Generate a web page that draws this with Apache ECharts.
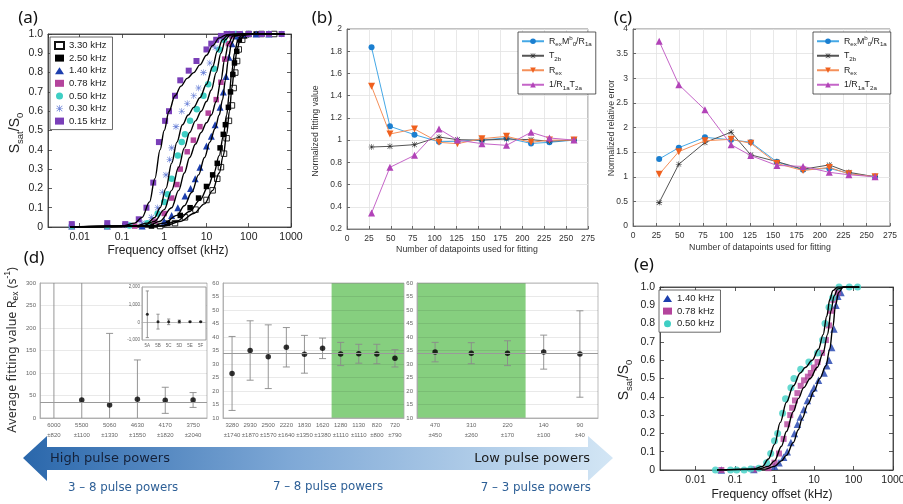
<!DOCTYPE html>
<html>
<head>
<meta charset="utf-8">
<script src="https://cdn.jsdelivr.net/npm/echarts@6/dist/echarts.min.js"></script>
<style>
html, body { margin: 0; padding: 0; background: #fff; }
#chart { width: 903px; height: 504px; }
</style>
</head>
<body>
<div id="chart"></div>
<script>
// ---------- Panel (a): saturation profiles, [offset (kHz), Ssat/S0] ----------
const aNames = ['3.30 kHz', '2.50 kHz', '1.40 kHz', '0.78 kHz', '0.50 kHz', '0.30 kHz', '0.15 kHz'];
const a330 = [[0.8,0.005],[1.8,0.02],[3.1,0.05],[5.5,0.09],[10,0.14],[14,0.19],[18,0.25],[22,0.31],[26,0.38],[30,0.46],[34,0.55],[40,0.63],[44,0.72],[48,0.8],[53,0.86],[58,0.92],[70,0.97],[100,1.0],[200,1.0],[400,1.0]];
const a250 = [[0.5,0.005],[1.2,0.02],[2.4,0.06],[4.1,0.1],[6.5,0.15],[10,0.21],[14,0.27],[18,0.33],[21,0.41],[25,0.48],[28,0.53],[33,0.62],[37,0.7],[42,0.79],[46,0.85],[52,0.91],[60,0.97],[80,0.99],[150,1.0],[300,1.0]];
const a140 = [[0.0065,0.005],[0.045,0.005],[0.3,0.005],[1.0,0.03],[1.5,0.06],[2.1,0.1],[3.1,0.16],[4.2,0.2],[5.4,0.25],[7,0.31],[10,0.42],[13,0.47],[16,0.53],[21,0.62],[25,0.7],[29,0.78],[34,0.88],[40,0.95],[50,0.99],[70,1.0],[150,1.0],[300,1.0]];
const a078 = [[0.0065,0.005],[0.045,0.005],[0.2,0.005],[0.6,0.03],[1.0,0.07],[1.5,0.15],[2.0,0.22],[2.4,0.3],[3.5,0.39],[4.9,0.45],[7,0.52],[11,0.59],[17,0.66],[22,0.75],[27,0.87],[33,0.95],[40,0.99],[60,1.0],[100,1.0],[300,1.0]];
const a050 = [[0.0065,0.005],[0.045,0.005],[0.15,0.008],[0.4,0.02],[0.7,0.07],[1.0,0.13],[1.2,0.17],[1.5,0.25],[2.1,0.37],[2.6,0.44],[3.1,0.48],[4.1,0.55],[5.9,0.61],[8.5,0.68],[11,0.74],[15,0.82],[20,0.92],[26,0.97],[35,1.0],[50,1.0],[100,1.0],[300,1.0]];
const a030 = [[0.0065,0.01],[0.045,0.01],[0.12,0.01],[0.3,0.02],[0.5,0.05],[0.7,0.1],[0.9,0.18],[1.1,0.27],[1.35,0.35],[1.5,0.41],[1.9,0.52],[2.6,0.6],[3.5,0.64],[5,0.68],[6.5,0.72],[8.5,0.8],[12,0.85],[16,0.93],[22,0.98],[30,1.0],[45,1.0],[100,1.0],[300,1.0],[600,1.0]];
const a015 = [[0.0065,0.015],[0.045,0.02],[0.12,0.015],[0.25,0.04],[0.38,0.1],[0.55,0.23],[0.75,0.44],[1.05,0.55],[1.3,0.6],[1.8,0.68],[2.4,0.76],[3.8,0.81],[5.8,0.86],[10,0.92],[13,0.95],[17,0.97],[22,0.99],[30,1.0],[40,1.0],[60,1.0],[100,1.0],[200,1.0],[300,1.0],[600,1.0]];
// fitted curves
const fit330 = [[0.006,0],[1,0.005],[2.5,0.03],[5,0.07],[9,0.12],[14,0.19],[20,0.28],[25,0.37],[30,0.48],[35,0.6],[40,0.72],[46,0.83],[53,0.92],[62,0.97],[80,0.995],[130,1],[700,1]];
const fit250 = [[0.006,0],[0.8,0.005],[2,0.03],[4,0.08],[7,0.14],[11,0.21],[15,0.28],[20,0.37],[25,0.47],[30,0.58],[35,0.7],[40,0.81],[46,0.9],[54,0.96],[65,0.99],[100,1],[700,1]];
const fit140 = [[0.006,0],[0.5,0.005],[1,0.02],[2,0.06],[3,0.11],[4.5,0.18],[6.5,0.27],[9,0.36],[12,0.44],[16,0.51],[20,0.58],[24,0.66],[28,0.76],[33,0.87],[39,0.95],[48,0.99],[80,1],[700,1]];
const fit078 = [[0.006,0],[0.4,0.005],[0.8,0.03],[1.5,0.1],[2.2,0.19],[3,0.28],[4,0.36],[5.5,0.43],[7.5,0.49],[10,0.54],[13,0.58],[17,0.65],[22,0.76],[27,0.87],[33,0.95],[42,0.99],[70,1],[700,1]];
const fit050 = [[0.006,0],[0.3,0.005],[0.6,0.03],[1,0.09],[1.5,0.19],[2.2,0.31],[3,0.41],[4,0.49],[5.5,0.55],[7.5,0.6],[10,0.65],[13,0.71],[17,0.8],[22,0.9],[28,0.97],[36,0.995],[60,1],[700,1]];
const fit030 = [[0.006,0],[0.2,0.005],[0.4,0.02],[0.6,0.05],[0.8,0.1],[1.1,0.2],[1.5,0.33],[2,0.44],[2.7,0.53],[3.7,0.58],[5,0.62],[7,0.67],[10,0.74],[14,0.83],[18,0.91],[24,0.97],[32,0.995],[50,1],[700,1]];
const fit015 = [[0.006,0],[0.1,0.005],[0.2,0.02],[0.3,0.05],[0.45,0.13],[0.6,0.25],[0.8,0.4],[1.0,0.5],[1.3,0.6],[1.8,0.68],[2.5,0.73],[3.5,0.77],[5,0.8],[7,0.84],[10,0.89],[14,0.94],[20,0.98],[30,0.997],[50,1],[700,1]];

// ---------- Panels (b) and (c): convergence vs. number of datapoints ----------
const bcNames = ['RexM0b/R1a', 'T2b', 'Rex', '1/R1aT2a'];
const nPoints = [28, 49, 77, 105, 126, 154, 182, 210, 231, 259];
const bRexM0 = [1.835, 1.124, 1.049, 0.985, 0.99, 1.0, 1.02, 0.97, 0.98, 1.0];
const bT2b = [0.938, 0.944, 0.959, 1.028, 1.004, 1.0, 1.01, 1.004, 0.99, 1.0];
const bRex = [1.484, 1.055, 1.10, 0.98, 0.968, 1.013, 1.034, 0.98, 1.0, 1.0];
const bR1aT2a = [0.344, 0.755, 0.863, 1.10, 1.0, 0.968, 0.953, 1.07, 1.019, 1.0];
const cRexM0 = [1.36, 1.59, 1.80, 1.75, 1.70, 1.30, 1.14, 1.17, 1.07, 1.0];
const cT2b = [0.475, 1.254, 1.695, 1.905, 1.444, 1.308, 1.153, 1.24, 1.09, 1.0];
const cRex = [1.05, 1.51, 1.73, 1.76, 1.68, 1.27, 1.125, 1.19, 1.06, 1.0];
const cR1aT2a = [3.75, 2.87, 2.36, 1.65, 1.43, 1.23, 1.21, 1.09, 1.04, 1.0];

// ---------- Panel (d): average fitted Rex with standard deviation ----------
const dLeftCats = ['6000\n±820', '5500\n±1100', '5060\n±1330', '4630\n±1550', '4170\n±1820', '3750\n±2040'];
const insetCats = ['5A', '5B', '5C', '5D', '5E', '5F'];
const dLeftMean = [457, 40, 29, 41.5, 39.3, 40];
const dLeftErr = [1320, 420, 159, 87.5, 29, 16.5];
const dMidCats = ['3280\n±1740', '2930\n±1870', '2500\n±1570', '2220\n±1640', '1830\n±1350', '1620\n±1380', '1280\n±1110', '1130\n±1110', '820\n±800', '720\n±790'];
const dMidMean = [26.5, 35.0, 32.7, 36.2, 33.6, 35.8, 33.7, 33.8, 33.7, 32.1];
const dMidErr = [13.7, 11.0, 11.8, 7.3, 7.0, 3.8, 4.3, 3.5, 3.6, 3.2];
const dRightCats = ['470\n±450', '310\n±260', '220\n±170', '140\n±100', '90\n±40'];
const dRightMean = [34.4, 34.0, 34.0, 34.4, 33.7];
const dRightErr = [3.6, 3.9, 4.6, 6.3, 16.0];
const refRex = 34;
const dMidShade = [6, 9];
const dRightShade = [0, 2];

// ---------- Panel (e): three profiles ----------
const eNames = ['1.40 kHz', '0.78 kHz', '0.50 kHz'];
const e140 = [[0.045,0.0],[0.3,0.003],[1.0,0.02],[1.3,0.04],[1.7,0.07],[2.1,0.1],[2.6,0.15],[3.2,0.2],[3.8,0.25],[4.5,0.29],[5.5,0.33],[6.8,0.38],[8.5,0.42],[10,0.45],[13,0.49],[18,0.53],[21,0.57],[24,0.6],[28,0.67],[32,0.77],[36,0.9],[40,0.95],[48,0.97]];
const e078 = [[0.045,0.0],[0.3,0.003],[0.7,0.01],[1.0,0.04],[1.3,0.09],[1.7,0.17],[2.1,0.25],[2.5,0.3],[2.8,0.34],[3.3,0.38],[3.8,0.42],[4.6,0.46],[5.6,0.49],[7,0.51],[8.3,0.53],[10,0.56],[12.3,0.59],[16,0.64],[20,0.71],[24,0.79],[27,0.87],[31,0.93],[40,0.97]];
const e050 = [[0.032,0.0],[0.077,0.0],[0.11,0.0],[0.17,0.0],[0.25,0.005],[0.4,0.01],[0.63,0.04],[0.8,0.09],[1.0,0.16],[1.2,0.2],[1.6,0.31],[1.9,0.39],[2.6,0.45],[3.1,0.5],[4.6,0.55],[7.4,0.59],[12.3,0.64],[16.5,0.71],[19,0.8],[24,0.89],[29.5,0.94],[43,1.0],[78,1.0],[127,1.0]];
const fitE140 = [[0.035,0],[0.6,0.005],[1,0.02],[1.5,0.05],[2,0.08],[3,0.15],[4,0.22],[5,0.28],[7,0.36],[10,0.43],[14,0.5],[20,0.57],[25,0.66],[30,0.78],[35,0.9],[42,0.97],[55,1],[140,1]];
const fitE078 = [[0.035,0],[0.4,0.005],[0.7,0.02],[1,0.05],[1.5,0.13],[2,0.21],[3,0.32],[4,0.39],[5.5,0.45],[8,0.5],[12,0.56],[17,0.64],[22,0.74],[27,0.87],[32,0.95],[40,0.99],[60,1],[140,1]];
const fitE050 = [[0.035,0],[0.3,0.005],[0.5,0.02],[0.7,0.06],[1,0.14],[1.4,0.26],[2,0.37],[3,0.46],[4.5,0.53],[6,0.56],[9,0.6],[13,0.66],[17,0.74],[21,0.84],[25,0.93],[30,0.98],[40,1],[140,1]];

// ---------- styling ----------
const AX = 'Liberation Sans, Arial, Helvetica, sans-serif';
const TITLE = 'Noto Sans, Open Sans, sans-serif';
const BANNER = 'DejaVu Sans, Verdana, sans-serif';
const ASTERISK = 'path://M4.55,0H5.45V10H4.55Z M0,4.55H10V5.45H0Z M1.3,0.66L9.34,8.7L8.7,9.34L0.66,1.3Z M8.7,0.66L9.34,1.3L1.3,9.34L0.66,8.7Z';

const profileStyle = {
  '3.30 kHz': { symbol: 'rect', size: 5.5, color: '#ffffff', border: '#111', bw: 0.9 },
  '2.50 kHz': { symbol: 'rect', size: 5.5, color: '#000000' },
  '1.40 kHz': { symbol: 'triangle', size: 7, color: '#1d3fae' },
  '0.78 kHz': { symbol: 'rect', size: 5.5, color: '#b4449c' },
  '0.50 kHz': { symbol: 'circle', size: 6.5, color: '#3ecfc4' },
  '0.30 kHz': { symbol: ASTERISK, size: 6.5, color: '#6c83d8' },
  '0.15 kHz': { symbol: 'rect', size: 6, color: '#7a3fb8' }
};
const bcStyle = {
  'RexM0b/R1a': { symbol: 'circle', size: 6, color: '#1b7fd0', line: '#45a8e6', rot: 0 },
  'T2b': { symbol: ASTERISK, size: 6, color: '#333333', line: '#555555', rot: 0 },
  'Rex': { symbol: 'triangle', size: 7, color: '#f0601e', line: '#f5905a', rot: 180 },
  '1/R1aT2a': { symbol: 'triangle', size: 7, color: '#b243b8', line: '#c565c8', rot: 0 }
};
const bcRich = {
  'RexM0b/R1a': 'R{s|ex}M{p|b}{s|0}/R{s|1a}',
  'T2b': 'T{s|2b}',
  'Rex': 'R{s|ex}',
  '1/R1aT2a': '1/R{s|1a}T{s|2a}'
};
const subRich = {
  s: { fontSize: 6.2, lineHeight: 6, verticalAlign: 'bottom', fontFamily: AX, color: '#222' },
  p: { fontSize: 6.2, lineHeight: 6, verticalAlign: 'top', fontFamily: AX, color: '#222' }
};

function fmtPow(v) {
  const l = Math.log10(v);
  const r = Math.round(l);
  return Math.abs(l - r) < 1e-6 ? String(+Math.pow(10, r).toPrecision(3)) : '';
}
function fmt1(v) { return v === 0 ? '0' : v.toFixed(1); }

function logX(gridIndex, min, fs, position, labels) {
  return {
    type: 'log', logBase: 10, gridIndex, min, max: 1000, position,
    axisLine: { show: true, onZero: false, lineStyle: { color: '#333', width: 0.8 } },
    axisTick: { show: true, inside: true, length: 4, lineStyle: { color: '#333', width: 0.8 } },
    splitLine: { show: false },
    axisLabel: { show: labels, showMinLabel: false, formatter: fmtPow, fontSize: fs, color: '#222', fontFamily: AX, margin: 5 }
  };
}
function profY(gridIndex, fs, position, labels) {
  return {
    type: 'value', gridIndex, min: 0, max: 1, interval: 0.1, position,
    axisLine: { show: true, onZero: false, lineStyle: { color: '#333', width: 0.8 } },
    axisTick: { show: true, inside: true, length: 4, lineStyle: { color: '#333', width: 0.8 } },
    splitLine: { show: false },
    axisLabel: { show: labels, formatter: fmt1, fontSize: fs, color: '#222', fontFamily: AX, margin: 5 }
  };
}
function linVal(gridIndex, min, max, interval) {
  return {
    type: 'value', gridIndex, min, max, interval,
    axisLine: { show: true, onZero: false, lineStyle: { color: '#666', width: 0.8 } },
    axisTick: { show: true, inside: true, length: 3, lineStyle: { color: '#666' } },
    splitLine: { show: true, lineStyle: { color: '#e2e2e2', width: 0.8 } },
    axisLabel: { fontSize: 8.5, color: '#333', fontFamily: AX, margin: 5 }
  };
}
function dCat(gridIndex, cats, fs) {
  return {
    type: 'category', gridIndex, data: cats, boundaryGap: true,
    axisLine: { show: true, lineStyle: { color: '#aaa', width: 0.8 } },
    axisTick: { show: false },
    splitLine: { show: false },
    axisLabel: { interval: 0, fontSize: fs, lineHeight: fs * 1.6, color: '#666', fontFamily: AX, margin: 3 }
  };
}
function dVal(gridIndex, min, max, interval, fs) {
  return {
    type: 'value', gridIndex, min, max, interval,
    axisLine: { show: true, onZero: false, lineStyle: { color: '#aaa', width: 0.8 } },
    axisTick: { show: false },
    splitLine: { show: true, lineStyle: { color: 'rgba(0,0,0,0.11)', width: 0.8 } },
    axisLabel: { fontSize: fs, color: '#666', fontFamily: AX, margin: 4 }
  };
}

// vertical error bar with caps, clipped to the plotting area
function errorBarRenderer(capHalf, color) {
  return function (params, api) {
    const i = api.value(0);
    const lo = api.coord([i, api.value(1)]);
    const hi = api.coord([i, api.value(2)]);
    const cs = params.coordSys;
    const yTop = cs.y, yBot = cs.y + cs.height;
    const x = lo[0];
    const t = Math.max(hi[1], yTop), b = Math.min(lo[1], yBot);
    const st = { stroke: color, lineWidth: 0.9 };
    const children = [{ type: 'line', shape: { x1: x, y1: t, x2: x, y2: b }, style: st }];
    if (hi[1] >= yTop) children.push({ type: 'line', shape: { x1: x - capHalf, y1: hi[1], x2: x + capHalf, y2: hi[1] }, style: st });
    if (lo[1] <= yBot) children.push({ type: 'line', shape: { x1: x - capHalf, y1: lo[1], x2: x + capHalf, y2: lo[1] }, style: st });
    return { type: 'group', children };
  };
}
// shaded band covering whole category slots
function shadeRenderer(params, api) {
  const cs = params.coordSys;
  const band = api.size([1, 0])[0];
  const x0 = api.coord([api.value(0), 0])[0] - band / 2;
  const x1 = api.coord([api.value(1), 0])[0] + band / 2;
  return { type: 'rect', shape: { x: x0, y: cs.y, width: x1 - x0, height: cs.height }, style: { fill: '#86cf7f' } };
}

function errData(mean, err) { return mean.map((m, i) => [i, m - err[i], m + err[i]]); }
function ptData(mean) { return mean.map((m, i) => [i, m]); }

const series = [];

// ---- (a)
const aData = { '3.30 kHz': a330, '2.50 kHz': a250, '1.40 kHz': a140, '0.78 kHz': a078, '0.50 kHz': a050, '0.30 kHz': a030, '0.15 kHz': a015 };
const aFits = [fit330, fit250, fit140, fit078, fit050, fit030, fit015];
aNames.forEach(function (n) {
  const s = profileStyle[n];
  series.push({
    type: 'scatter', name: n, xAxisIndex: 0, yAxisIndex: 0, data: aData[n],
    symbol: s.symbol, symbolSize: s.size, z: 2,
    itemStyle: { color: s.color, borderColor: s.border || s.color, borderWidth: s.bw || 0, opacity: 1 }
  });
});
aFits.forEach(function (f, k) {
  series.push({
    type: 'line', name: 'fit a' + k, xAxisIndex: 0, yAxisIndex: 0, data: f,
    showSymbol: false, smooth: 0.35, smoothMonotone: 'x', silent: true, z: 3,
    lineStyle: { color: '#000', width: 1.4 }
  });
});

// ---- (b) and (c)
const bData = [bRexM0, bT2b, bRex, bR1aT2a];
const cData = [cRexM0, cT2b, cRex, cR1aT2a];
[[bData, 1], [cData, 2]].forEach(function (pair) {
  pair[0].forEach(function (vals, k) {
    const n = bcNames[k], s = bcStyle[n];
    series.push({
      type: 'line', name: n, xAxisIndex: pair[1], yAxisIndex: pair[1],
      data: vals.map((v, i) => [nPoints[i], v]),
      symbol: s.symbol, symbolSize: s.size, symbolRotate: s.rot, showSymbol: true,
      itemStyle: { color: s.color }, lineStyle: { color: s.line, width: 1 }, z: 3 + k
    });
  });
});

// ---- (d)
const refLine = { silent: true, symbol: 'none', label: { show: false }, lineStyle: { color: '#9a9a9a', width: 1, type: 'solid' }, data: [{ yAxis: refRex }] };
[
  { x: 3, mean: dLeftMean, err: dLeftErr, cap: 3.5, size: 5.5 },
  { x: 4, mean: dLeftMean, err: dLeftErr, cap: 1.6, size: 3 },
  { x: 5, mean: dMidMean, err: dMidErr, cap: 3.5, size: 5.5 },
  { x: 6, mean: dRightMean, err: dRightErr, cap: 3.5, size: 5.5 }
].forEach(function (p) {
  const zBase = p.x === 4 ? 8 : 2;
  series.push({
    type: 'custom', name: 'err' + p.x, xAxisIndex: p.x, yAxisIndex: p.x, silent: true, z: zBase,
    renderItem: errorBarRenderer(p.cap, '#8a8a8a'), data: errData(p.mean, p.err)
  });
  series.push({
    type: 'scatter', name: 'mean' + p.x, xAxisIndex: p.x, yAxisIndex: p.x, silent: true, z: zBase + 1,
    symbol: 'circle', symbolSize: p.size, itemStyle: { color: '#000' }, data: ptData(p.mean),
    markLine: refLine
  });
});
series.push({ type: 'custom', name: 'shadeMid', xAxisIndex: 5, yAxisIndex: 5, silent: true, z: -1, renderItem: shadeRenderer, data: [dMidShade] });
series.push({ type: 'custom', name: 'shadeRight', xAxisIndex: 6, yAxisIndex: 6, silent: true, z: -1, renderItem: shadeRenderer, data: [dRightShade] });

// ---- (e)
const eData = { '1.40 kHz': e140, '0.78 kHz': e078, '0.50 kHz': e050 };
eNames.forEach(function (n) {
  const s = profileStyle[n];
  series.push({
    type: 'scatter', name: n, xAxisIndex: 7, yAxisIndex: 7, data: eData[n],
    symbol: s.symbol, symbolSize: s.size + 0.5, z: 2, itemStyle: { color: s.color }
  });
});
[fitE140, fitE078, fitE050].forEach(function (f, k) {
  series.push({
    type: 'line', name: 'fit e' + k, xAxisIndex: 7, yAxisIndex: 7, data: f,
    showSymbol: false, smooth: 0.35, smoothMonotone: 'x', silent: true, z: 3,
    lineStyle: { color: '#000', width: 1.4 }
  });
});

// ---------- layout ----------
const gridBase = { show: true, borderWidth: 0.8, containLabel: false, outerBoundsMode: 'none' };
const grids = [
  Object.assign({ left: 48, top: 34, width: 243, height: 193, borderColor: '#333' }, gridBase),
  Object.assign({ left: 347, top: 29, width: 241, height: 200, borderColor: '#666' }, gridBase),
  Object.assign({ left: 633, top: 29, width: 257, height: 197, borderColor: '#666' }, gridBase),
  Object.assign({ left: 40, top: 283, width: 167, height: 135, borderColor: '#aaa' }, gridBase),
  Object.assign({ left: 142, top: 287, width: 64, height: 53, borderColor: '#888', backgroundColor: '#fff', z: 6 }, gridBase),
  Object.assign({ left: 223, top: 283, width: 181, height: 135, borderColor: '#aaa' }, gridBase),
  Object.assign({ left: 417, top: 283, width: 181, height: 135, borderColor: '#aaa' }, gridBase),
  Object.assign({ left: 660, top: 287, width: 233, height: 183, borderColor: '#333' }, gridBase)
];

const insetX = dCat(4, insetCats, 4.5);
insetX.z = 7; insetX.axisLabel.margin = 2;
const insetY = dVal(4, -1000, 2000, 1000, 4.5);
insetY.z = 7; insetY.axisLabel.margin = 2; insetY.splitLine.show = false;

const xAxes = [
  logX(0, 0.00178, 10.5, 'bottom', true),
  linVal(1, 0, 275, 25),
  linVal(2, 0, 275, 25),
  dCat(3, dLeftCats, 6),
  insetX,
  dCat(5, dMidCats, 6),
  dCat(6, dRightCats, 6),
  logX(7, 0.00126, 10.5, 'bottom', true),
  logX(0, 0.00178, 10.5, 'top', false),
  logX(7, 0.00126, 10.5, 'top', false)
];
const yAxes = [
  profY(0, 10.5, 'left', true),
  linVal(1, 0.2, 2, 0.2),
  linVal(2, 0, 4, 0.5),
  dVal(3, 0, 300, 50, 6),
  insetY,
  dVal(5, 10, 60, 5, 6),
  dVal(6, 10, 60, 5, 6),
  profY(7, 10.5, 'left', true),
  profY(0, 10.5, 'right', false),
  profY(7, 10.5, 'right', false)
];

const bcLegend = (left) => ({
  data: bcNames, left, top: 32, orient: 'vertical', itemGap: 2, itemWidth: 22, itemHeight: 7,
  padding: [3, 4, 3, 3], borderColor: '#333', borderWidth: 0.8, backgroundColor: '#fff', selectedMode: false,
  formatter: n => bcRich[n], textStyle: { fontSize: 8.8, lineHeight: 12.5, color: '#222', fontFamily: AX, rich: subRich }
});
const legends = [
  {
    data: aNames, left: 50, top: 37, orient: 'vertical', itemGap: 1.6, itemWidth: 9, itemHeight: 7,
    padding: [3, 6, 3, 4], borderColor: '#444', borderWidth: 0.8, backgroundColor: '#fff', selectedMode: false,
    textStyle: { fontSize: 9.5, lineHeight: 11, color: '#222', fontFamily: AX }
  },
  bcLegend(518),
  bcLegend(813),
  {
    data: eNames, left: 659, top: 290, orient: 'vertical', itemGap: 1.6, itemWidth: 9, itemHeight: 7,
    padding: [3, 6, 3, 4], borderColor: '#444', borderWidth: 0.8, backgroundColor: '#fff', selectedMode: false,
    textStyle: { fontSize: 9.5, lineHeight: 11, color: '#222', fontFamily: AX }
  }
];

// ---------- titles, axis names and the power arrow ----------
function txt(x, y, text, size, color, extra) {
  return { type: 'text', x, y, silent: true, style: Object.assign({
    text, fontSize: size, fill: color, fontFamily: AX, align: 'center', verticalAlign: 'middle'
  }, extra || {}) };
}
function vtxt(x, y, text, size, color, extra) {
  const t = txt(x, y, text, size, color, extra);
  t.rotation = Math.PI / 2;
  return t;
}
const richS = (fs) => ({
  s: { fontSize: fs * 0.68, lineHeight: fs * 0.7, verticalAlign: 'bottom', fontFamily: AX, fill: '#222' },
  p: { fontSize: fs * 0.68, lineHeight: fs * 0.7, verticalAlign: 'top', fontFamily: AX, fill: '#222' }
});

const graphics = [
  txt(28, 18, '(a)', 17, '#111', { fontFamily: TITLE }),
  txt(322, 18, '(b)', 17, '#111', { fontFamily: TITLE }),
  txt(623, 18, '(c)', 17, '#111', { fontFamily: TITLE }),
  txt(34, 258, '(d)', 17, '#111', { fontFamily: TITLE }),
  txt(644, 265, '(e)', 17, '#111', { fontFamily: TITLE }),
  txt(168, 251, 'Frequency offset (kHz)', 12, '#222'),
  txt(772, 495, 'Frequency offset (kHz)', 12, '#222'),
  txt(467, 250, 'Number of datapoints used for fitting', 8.8, '#333'),
  txt(760, 248, 'Number of datapoints used for fitting', 8.8, '#333'),
  vtxt(316, 131, 'Normalized fitting value', 8.8, '#333'),
  vtxt(612, 128, 'Normalized relative error', 8.8, '#333'),
  vtxt(15, 133, 'S{s|sat}/S{s|0}', 14, '#222', { lineHeight: 20, rich: richS(14) }),
  vtxt(624, 380, 'S{s|sat}/S{s|0}', 14, '#222', { lineHeight: 20, rich: richS(14) }),
  vtxt(12, 350, 'Average fitting value R{s|ex} (s{p|-1})', 12.5, '#333', { fontFamily: TITLE, lineHeight: 17, rich: richS(12.5) }),
  {
    type: 'polygon', silent: true,
    shape: { points: [[23, 458], [47, 436], [47, 447], [588, 447], [588, 436], [613, 458], [588, 481], [588, 470], [47, 470], [47, 481]] },
    style: {
      fill: { type: 'linear', x: 0, y: 0, x2: 1, y2: 0, colorStops: [
        { offset: 0, color: '#2a67ab' }, { offset: 0.45, color: '#7ea8d6' }, { offset: 1, color: '#d3e6f5' }
      ] }
    }
  },
  txt(50, 459, 'High pulse powers', 13, '#14213a', { align: 'left', fontFamily: BANNER }),
  txt(590, 459, 'Low pulse powers', 13, '#1a1a1a', { align: 'right', fontFamily: BANNER }),
  txt(68, 488, '3 – 8 pulse powers', 11.8, '#2d5f96', { align: 'left', fontFamily: BANNER }),
  txt(328, 487, '7 – 8 pulse powers', 11.8, '#2d5f96', { fontFamily: BANNER }),
  txt(591, 488, '7 – 3 pulse powers', 11.8, '#2d5f96', { align: 'right', fontFamily: BANNER })
];

const chart = echarts.init(document.getElementById('chart'), null, { renderer: 'canvas', width: 903, height: 504 });
chart.setOption({
  animation: false,
  backgroundColor: '#fff',
  grid: grids,
  xAxis: xAxes,
  yAxis: yAxes,
  legend: legends,
  series: series,
  graphic: graphics
});
</script>
</body>
</html>
